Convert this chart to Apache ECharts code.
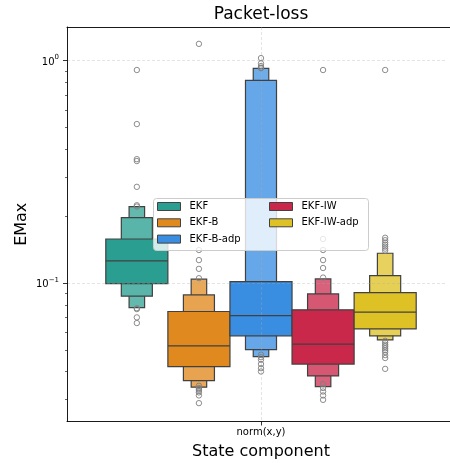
<!DOCTYPE html>
<html>
<head>
<meta charset="utf-8">
<script src="https://cdn.jsdelivr.net/npm/echarts@6/dist/echarts.min.js"></script>
<style>
html, body { margin: 0; padding: 0; background: #ffffff; }
#chart { width: 450px; height: 463px; }
</style>
</head>
<body>
<div id="chart"></div>
<script>
// ---- data -------------------------------------------------------------
const categories = ['norm(x,y)'];
const groupNames = ['EKF', 'EKF-B', 'EKF-B-adp', 'EKF-IW', 'EKF-IW-adp'];

// letter values per method, [lower, upper] from the quartile box outwards
const lvEKF      = [[0.0996, 0.158], [0.0874, 0.197], [0.0777, 0.221]];
const lvEKFB     = [[0.0422, 0.0746], [0.0365, 0.0886], [0.0341, 0.1042]];
const lvEKFBadp  = [[0.0580, 0.1017], [0.0503, 0.815], [0.0468, 0.923]];
const lvEKFIW    = [[0.0433, 0.0759], [0.0383, 0.0895], [0.0343, 0.1045]];
const lvEKFIWadp = [[0.0623, 0.0907], [0.0580, 0.1082], [0.0556, 0.1363]];

const medians = [0.126, 0.0523, 0.0715, 0.0532, 0.0741];

const outEKF      = [0.908, 0.519, 0.361, 0.354, 0.271, 0.224, 0.221, 0.0772, 0.0765, 0.0702, 0.0662];
const outEKFB     = [1.19, 0.141, 0.127, 0.116, 0.1053, 0.0346, 0.0338, 0.0334, 0.0328, 0.0323, 0.0313, 0.0289];
const outEKFBadp  = [1.027, 0.973, 0.946, 0.930, 0.925, 0.0477, 0.0465, 0.0453, 0.0433, 0.0415, 0.0401];
const outEKFIW    = [0.908, 0.158, 0.141, 0.127, 0.117, 0.106, 0.0352, 0.0338, 0.0326, 0.0313, 0.0299];
const outEKFIWadp = [0.908, 0.160, 0.156, 0.152, 0.149, 0.146, 0.143, 0.140, 0.0551, 0.0540, 0.0529, 0.0520, 0.0510, 0.0500, 0.0490, 0.0475, 0.0461, 0.0412];

const yMajorTicks = [0.1, 1];
const yMinorTicks = [0.03, 0.04, 0.05, 0.06, 0.07, 0.08, 0.09, 0.2, 0.3, 0.4, 0.5, 0.6, 0.7, 0.8, 0.9];
const yRange = [0.0239, 1.417];

// ---- styling ----------------------------------------------------------
const mainColors = ['#2a9f91', '#e0891f', '#3a8ee2', '#c9284a', '#dec124'];
const FONT = 'DejaVu Sans';
const EDGE = '#414141';
const GRIDLINE = 'rgba(170,170,170,0.4)';

function spine() {
  return { show: true, onZero: false, lineStyle: { color: '#000', width: 0.9 } };
}

function mixWhite(hex, t) {
  const n = parseInt(hex.slice(1), 16);
  const r = (n >> 16) & 255, g = (n >> 8) & 255, b = n & 255;
  const m = c => Math.round(c + (255 - c) * t);
  return 'rgb(' + m(r) + ',' + m(g) + ',' + m(b) + ')';
}

const lvSets = [lvEKF, lvEKFB, lvEKFBadp, lvEKFIW, lvEKFIWadp];
const outSets = [outEKF, outEKFB, outEKFBadp, outEKFIW, outEKFIWadp];

// rows: [category, low, high, kind]; kind 0..2 = letter-value level, 3 = median, 4 = outlier
function buildRows(g) {
  const rows = [];
  const lv = lvSets[g];
  for (let k = lv.length - 1; k >= 0; k--) rows.push([0, lv[k][0], lv[k][1], k]);
  rows.push([0, medians[g], medians[g], 3]);
  outSets[g].forEach(v => rows.push([0, v, v, 4]));
  return rows;
}

function makeRenderer(g) {
  const fills = [mainColors[g], mixWhite(mainColors[g], 0.22), mixWhite(mainColors[g], 0.27)];
  return function (params, api) {
    const kind = api.value(3);
    const band = api.size([1, 0])[0];
    const slot = band * 0.8 / groupNames.length;
    const cx = api.coord([api.value(0), api.value(1)])[0] + (g - (groupNames.length - 1) / 2) * slot;
    const yLo = api.coord([api.value(0), api.value(1)])[1];
    const yHi = api.coord([api.value(0), api.value(2)])[1];
    if (kind <= 2) {
      const w = slot * Math.pow(0.5, kind);
      return {
        type: 'rect',
        shape: { x: cx - w / 2, y: yHi, width: w, height: yLo - yHi },
        style: { fill: fills[kind], stroke: EDGE, lineWidth: 1.2 }
      };
    }
    if (kind === 3) {
      return {
        type: 'line',
        shape: { x1: cx - slot / 2, y1: yLo, x2: cx + slot / 2, y2: yLo },
        style: { stroke: EDGE, lineWidth: 1.2 }
      };
    }
    return {
      type: 'circle',
      shape: { cx: cx, cy: yLo, r: 2.7 },
      style: { fill: 'none', stroke: '#7f7f7f', lineWidth: 0.9 }
    };
  };
}

const series = groupNames.map((name, g) => ({
  name: name,
  type: 'custom',
  coordinateSystem: 'cartesian2d',
  xAxisIndex: 0,
  yAxisIndex: 0,
  z: 2,
  itemStyle: { color: mainColors[g] },
  encode: { x: 0, y: [1, 2] },
  renderItem: makeRenderer(g),
  data: buildRows(g)
}));

function legendFor(names, left) {
  return {
    orient: 'vertical',
    icon: 'rect',
    left: left,
    top: 200.5,
    itemWidth: 23,
    itemHeight: 8,
    itemGap: 4.3,
    padding: 0,
    z: 5,
    itemStyle: { borderColor: EDGE, borderWidth: 1 },
    textStyle: { fontFamily: FONT, fontSize: 10, color: '#000', lineHeight: 12, padding: [0, 0, 0, 4] },
    selectedMode: false,
    data: names
  };
}

const option = {
  animation: false,
  title: {
    text: 'Packet-loss',
    left: 261,
    top: 6,
    padding: 0,
    textAlign: 'center',
    textStyle: { fontFamily: FONT, fontSize: 17, fontWeight: 'normal', color: '#000' }
  },
  grid: {
    left: 67, width: 388, top: 27, height: 394.5,
    outerBoundsMode: 'none',
    containLabel: false,
    show: false
  },
  legend: [
    legendFor(groupNames.slice(0, 3), 157),
    legendFor(groupNames.slice(3), 269)
  ],
  graphic: [{
    // legend frame
    type: 'rect',
    z: 4,
    shape: { x: 153.5, y: 198.5, width: 215, height: 52, r: 3 },
    style: { fill: 'rgba(255,255,255,0.8)', stroke: '#cccccc', lineWidth: 1 }
  }, {
    // the plot frame stays open along the right-hand page edge
    type: 'rect',
    z: 3.5,
    silent: true,
    shape: { x: 446.5, y: 28, width: 4, height: 393 },
    style: { fill: '#ffffff' }
  }],
  xAxis: [{
    type: 'category',
    data: categories,
    z: 3,
    axisLine: spine(),
    axisTick: { show: true, alignWithLabel: true, length: 4, lineStyle: { color: '#000', width: 0.8 } },
    axisLabel: { margin: 6, fontFamily: FONT, fontSize: 10, color: '#000' },
    splitLine: { show: true, alignWithLabel: true, lineStyle: { color: GRIDLINE, width: 0.8, type: [3, 2] } },
    name: 'State component',
    nameLocation: 'middle',
    nameGap: 22.5,
    nameMoveOverlap: false,
    nameTextStyle: { fontFamily: FONT, fontSize: 16, color: '#000' }
  }, {
    // top spine
    type: 'category',
    data: categories,
    position: 'top',
    axisLine: spine(),
    axisTick: { show: false },
    axisLabel: { show: false },
    splitLine: { show: false }
  }],
  yAxis: [{
    type: 'log',
    logBase: 10,
    min: yRange[0],
    max: yRange[1],
    z: 3,
    axisLine: spine(),
    axisTick: { show: true, length: 4, customValues: yMajorTicks, lineStyle: { color: '#000', width: 0.8 } },
    axisLabel: {
      customValues: yMajorTicks,
      margin: 8,
      color: '#000',
      formatter: function (v) {
        const e = Math.round(Math.log10(v));
        return '{b|10}{s|' + (e < 0 ? '\u2212' + (-e) : e) + '}';
      },
      rich: {
        b: { fontFamily: FONT, fontSize: 10, color: '#000', padding: [3, 0, 0, 0], verticalAlign: 'bottom' },
        s: { fontFamily: FONT, fontSize: 7, color: '#000', verticalAlign: 'top' }
      }
    },
    splitLine: { show: true, lineStyle: { color: GRIDLINE, width: 0.8, type: [3, 2] } },
    name: 'EMax',
    nameLocation: 'middle',
    nameGap: 37,
    nameMoveOverlap: false,
    nameTextStyle: { fontFamily: FONT, fontSize: 16, color: '#000' }
  }, {
    // minor ticks
    type: 'log',
    logBase: 10,
    min: yRange[0],
    max: yRange[1],
    position: 'left',
    z: 3,
    axisLine: { show: false, onZero: false },
    axisLabel: { show: false },
    splitLine: { show: false },
    axisTick: { show: true, length: 2, customValues: yMinorTicks, lineStyle: { color: '#000', width: 0.6 } }
  }],
  series: series
};

const chart = echarts.init(document.getElementById('chart'), null, { renderer: 'canvas' });
chart.setOption(option);
</script>
</body>
</html>
